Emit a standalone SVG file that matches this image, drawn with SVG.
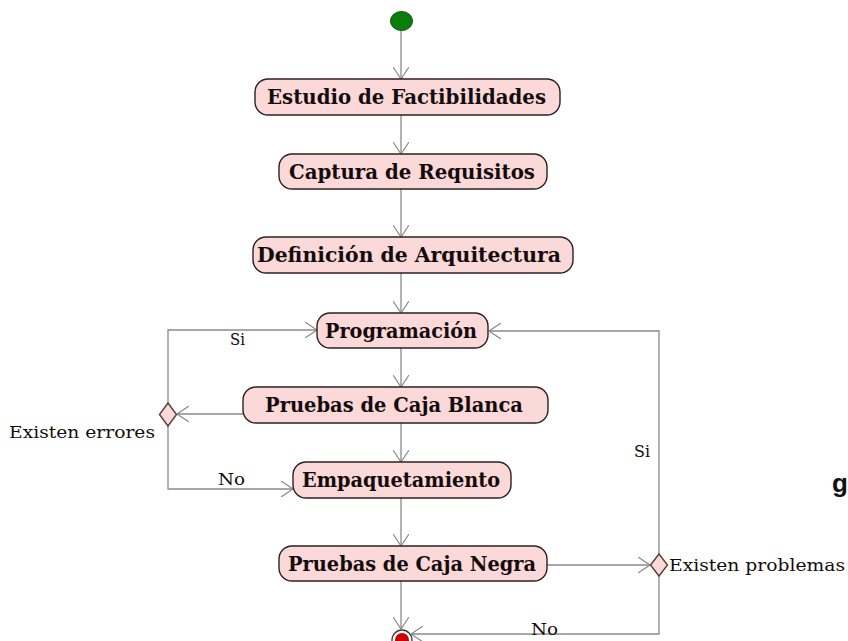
<svg xmlns="http://www.w3.org/2000/svg" width="848" height="641" viewBox="0 0 848 641">
  <style>
    .act rect { fill: #fbd9d9; stroke: #2e2020; stroke-width: 1.4; }
    .act text { font-family: "DejaVu Serif", serif; font-weight: bold; font-size: 19.5px; fill: #140c0c; text-anchor: middle; }
    .dec polygon { fill: #fbd9d9; stroke: #5a3a3a; stroke-width: 1.4; }
    .lbl { font-family: "DejaVu Serif", serif; font-size: 16px; fill: #140c0c; }
    .edge { fill: none; stroke: #8a8a8a; stroke-width: 1.3; marker-end: url(#open); }
  </style>
  <defs>
    <marker id="open" viewBox="0 0 12 16" refX="12" refY="8" markerWidth="12" markerHeight="16" markerUnits="userSpaceOnUse" orient="auto">
      <path d="M0,0 L12,8 L0,16" fill="none" stroke="#8a8a8a" stroke-width="1.2"/>
    </marker>
  </defs>
  <rect width="848" height="641" fill="#ffffff"/>

  <g id="connectors">
    <line class="edge" x1="401" y1="30" x2="401" y2="79"/>
    <line class="edge" x1="401" y1="115" x2="401" y2="154"/>
    <line class="edge" x1="401" y1="189" x2="401" y2="237"/>
    <line class="edge" x1="401" y1="273" x2="401" y2="313"/>
    <line class="edge" x1="401" y1="348" x2="401" y2="387"/>
    <line class="edge" x1="401" y1="423" x2="401" y2="462"/>
    <line class="edge" x1="401" y1="498" x2="401" y2="546"/>
    <line class="edge" x1="401" y1="581" x2="401" y2="629"/>
    <line class="edge" x1="243" y1="414" x2="177" y2="414"/>
    <polyline class="edge" points="168,403 168,330 317,330"/>
    <polyline class="edge" points="168,426 168,489 293,489"/>
    <line class="edge" x1="547" y1="565" x2="650" y2="565"/>
    <polyline class="edge" points="659,554 659,331 489,331"/>
    <polyline class="edge" points="659,576 659,634 411,634"/>
  </g>

  <g id="start">
    <ellipse cx="401.5" cy="21" rx="11" ry="9.5" fill="#0b7d0b" stroke="#0a5a0a" stroke-width="1"/>
  </g>

  <g id="estudio" class="act">
    <rect x="255" y="79" width="305" height="36" rx="13"/>
    <text x="406.5" y="104" textLength="279" lengthAdjust="spacingAndGlyphs">Estudio de Factibilidades</text>
  </g>
  <g id="captura" class="act">
    <rect x="279" y="154" width="268" height="35" rx="13"/>
    <text x="412" y="178.5" textLength="246" lengthAdjust="spacingAndGlyphs">Captura de Requisitos</text>
  </g>
  <g id="definicion" class="act">
    <rect x="253" y="237" width="320" height="36" rx="13"/>
    <text x="409" y="262" textLength="304" lengthAdjust="spacingAndGlyphs">Definición de Arquitectura</text>
  </g>
  <g id="programacion" class="act">
    <rect x="317" y="313" width="171" height="35" rx="13"/>
    <text x="401" y="337.5" textLength="152" lengthAdjust="spacingAndGlyphs">Programación</text>
  </g>
  <g id="caja-blanca" class="act">
    <rect x="243" y="387" width="305" height="36" rx="13"/>
    <text x="394" y="412" textLength="258" lengthAdjust="spacingAndGlyphs">Pruebas de Caja Blanca</text>
  </g>
  <g id="empaquetamiento" class="act">
    <rect x="293" y="462" width="218" height="36" rx="13"/>
    <text x="401" y="487" textLength="198" lengthAdjust="spacingAndGlyphs">Empaquetamiento</text>
  </g>
  <g id="caja-negra" class="act">
    <rect x="279" y="546" width="268" height="35" rx="13"/>
    <text x="412" y="570.5" textLength="248" lengthAdjust="spacingAndGlyphs">Pruebas de Caja Negra</text>
  </g>

  <g id="errores" class="dec">
    <polygon points="168,403 176.5,414.5 168,426 159.5,414.5"/>
    <text class="lbl" x="9" y="438" textLength="146" lengthAdjust="spacingAndGlyphs">Existen errores</text>
  </g>
  <g id="problemas" class="dec">
    <polygon points="659,554 667.5,565 659,576 650.5,565"/>
    <text class="lbl" x="669" y="570.5" textLength="176" lengthAdjust="spacingAndGlyphs">Existen problemas</text>
  </g>

  <g id="end">
    <circle cx="402" cy="640" r="10" fill="#ffffff" stroke="#3a3a3a" stroke-width="1.3"/>
    <circle cx="402" cy="640" r="7" fill="#cc0000"/>
  </g>

  <g id="labels">
    <text class="lbl" x="230" y="345" textLength="15" lengthAdjust="spacingAndGlyphs">Si</text>
    <text class="lbl" x="218" y="485" textLength="27" lengthAdjust="spacingAndGlyphs">No</text>
    <text class="lbl" x="634" y="457" textLength="16" lengthAdjust="spacingAndGlyphs">Si</text>
    <text class="lbl" x="531" y="635" textLength="27" lengthAdjust="spacingAndGlyphs">No</text>
    <text x="832" y="492" font-family="Liberation Sans, sans-serif" font-weight="bold" font-size="26" fill="#111">g</text>
  </g>
</svg>
